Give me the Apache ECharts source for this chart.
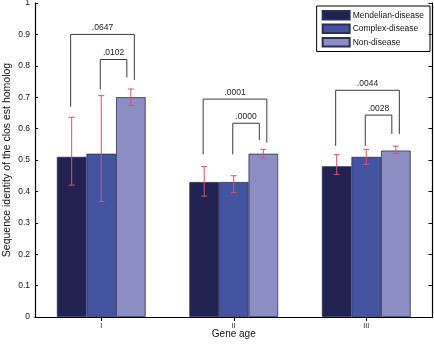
<!DOCTYPE html>
<html>
<head>
<meta charset="utf-8">
<script src="https://cdn.jsdelivr.net/npm/echarts@6/dist/echarts.min.js"></script>
<style>
  html, body { margin: 0; padding: 0; background: #fff; }
  #chart { width: 434px; height: 346px; }
</style>
</head>
<body>
<div id="chart"></div>
<script>
// Gene age groups
const categories = ['I', 'II', 'III'];
const seriesNames = ['Mendelian-disease', 'Complex-disease', 'Non-disease'];

// Mean sequence identity of the closest homolog, per group
const mendelian = [0.51, 0.43, 0.48];
const complex = [0.52, 0.43, 0.51];
const nondisease = [0.70, 0.52, 0.53];

// Error bar extents [low, high]
const mendelianErr = [[0.42, 0.636], [0.385, 0.479], [0.454, 0.517]];
const complexErr = [[0.368, 0.705], [0.396, 0.45], [0.486, 0.534]];
const nondiseaseErr = [[0.674, 0.726], [0.507, 0.534], [0.52, 0.544]];

// Significance brackets: [group, fromBar, toBar, topY, leftFootY, rightFootY, label]
const brackets = [
  [0, 0, 2, 0.90, 0.67, 0.755, '.0647'],
  [0, 1, 2, 0.82, 0.725, 0.763, '.0102'],
  [1, 0, 2, 0.694, 0.518, 0.555, '.0001'],
  [1, 1, 2, 0.617, 0.518, 0.564, '.0000'],
  [2, 0, 2, 0.722, 0.545, 0.583, '.0044'],
  [2, 1, 2, 0.643, 0.545, 0.583, '.0028']
];

const colors = ['#222250', '#44539f', '#8c8dc3'];
const CAT_GAP = 0.33;

function barCenter(api, group, barIdx) {
  const catW = api.size([1, 0])[0];
  const bw = catW * (1 - CAT_GAP) / 3;
  const cx = api.coord([group, 0])[0];
  return cx + (barIdx - 1) * bw;
}

function errSeries(errs, idx) {
  return {
    type: 'custom',
    z: 5,
    data: errs.map((e, i) => [i, e[0], e[1]]),
    encode: { x: 0, y: [1, 2] },
    renderItem: function (params, api) {
      const g = api.value(0);
      const x = barCenter(api, g, idx);
      const yl = api.coord([g, api.value(1)])[1];
      const yh = api.coord([g, api.value(2)])[1];
      const cap = 3;
      const style = { stroke: '#d2546e', lineWidth: 1, fill: null };
      return {
        type: 'group',
        children: [
          { type: 'line', shape: { x1: x, y1: yl, x2: x, y2: yh }, style: style },
          { type: 'line', shape: { x1: x - cap, y1: yl, x2: x + cap, y2: yl }, style: style },
          { type: 'line', shape: { x1: x - cap, y1: yh, x2: x + cap, y2: yh }, style: style }
        ]
      };
    }
  };
}

const barValues = [mendelian, complex, nondisease];
const barSeries = barValues.map((vals, k) => ({
  name: seriesNames[k],
  type: 'bar',
  data: vals,
  barGap: '0%',
  barCategoryGap: (CAT_GAP * 100) + '%',
  itemStyle: { color: colors[k], borderColor: '#2b2d5c', borderWidth: 0.8 },
  emphasis: { disabled: true }
}));

const bracketSeries = {
  type: 'custom',
  z: 6,
  data: brackets,
  encode: { x: 0, y: 3 },
  renderItem: function (params, api) {
    const b = brackets[params.dataIndex];
    const g = b[0];
    const xl = barCenter(api, g, b[1]) - 1;
    // outer bracket foot sits just right of the bar centre, inner one just left
    const xr = barCenter(api, g, b[2]) + (b[1] === 0 ? 3.5 : -4);
    const yt = api.coord([g, b[3]])[1];
    const yl = api.coord([g, b[4]])[1];
    const yr = api.coord([g, b[5]])[1];
    const style = { stroke: '#3a3a3a', lineWidth: 1, fill: null };
    return {
      type: 'group',
      children: [
        { type: 'polyline', shape: { points: [[xl, yl], [xl, yt], [xr, yt], [xr, yr]] }, style: style },
        {
          type: 'text',
          style: {
            text: b[6], x: (xl + xr) / 2, y: yt - 2,
            align: 'center', verticalAlign: 'bottom',
            font: '8.5px "Liberation Sans", Arial, sans-serif', fill: '#222'
          }
        }
      ]
    };
  }
};

const chart = echarts.init(document.getElementById('chart'));
const axisLine = { show: true, lineStyle: { color: '#000', width: 1.2 } };
chart.setOption({
  animation: false,
  textStyle: { fontFamily: '"Liberation Sans", Arial, sans-serif' },
  color: colors,
  grid: { left: 35, right: 1.5, top: 3, bottom: 29, containLabel: false, outerBoundsMode: 'none' },
  legend: {
    right: 4, top: 6,
    orient: 'vertical',
    itemWidth: 27, itemHeight: 8.5, itemGap: 3,
    padding: [4, 6, 4, 5],
    borderColor: '#000', borderWidth: 1,
    icon: 'rect',
    data: seriesNames,
    textStyle: { fontSize: 8.5, color: '#111', padding: [0, 0, 0, -2] }
  },
  xAxis: [
    {
      type: 'category', data: categories, position: 'bottom',
      name: 'Gene age', nameLocation: 'middle', nameGap: 12, nameMoveOverlap: false,
      nameTextStyle: { fontSize: 10, color: '#111' },
      axisLine: axisLine,
      axisTick: { show: false },
      axisLabel: { fontSize: 7, color: '#111', margin: 6 }
    },
    {
      type: 'category', data: categories, position: 'top',
      axisLine: axisLine,
      axisTick: { show: true, inside: true, alignWithLabel: true, length: 4, lineStyle: { color: '#000' } },
      axisLabel: { show: false }
    }
  ],
  yAxis: [
    {
      type: 'value', min: 0, max: 1, interval: 0.1, position: 'left',
      name: 'Sequence identity of the clos est homolog',
      nameLocation: 'middle', nameGap: 22, nameRotate: 90, nameMoveOverlap: false,
      nameTextStyle: { fontSize: 10.5, color: '#111' },
      axisLine: axisLine,
      axisTick: { show: true, inside: true, length: 3, lineStyle: { color: '#000' } },
      axisLabel: {
        fontSize: 8.5, color: '#111', margin: 5,
        formatter: v => (Math.round(v * 10) / 10).toString()
      },
      splitLine: { show: false }
    },
    {
      type: 'value', min: 0, max: 1, interval: 0.1, position: 'right',
      axisLine: axisLine,
      axisTick: { show: true, inside: true, length: 4, lineStyle: { color: '#000' } },
      axisLabel: { show: false },
      splitLine: { show: false }
    }
  ],
  series: [
    ...barSeries,
    errSeries(mendelianErr, 0),
    errSeries(complexErr, 1),
    errSeries(nondiseaseErr, 2),
    bracketSeries
  ]
});
</script>
</body>
</html>
